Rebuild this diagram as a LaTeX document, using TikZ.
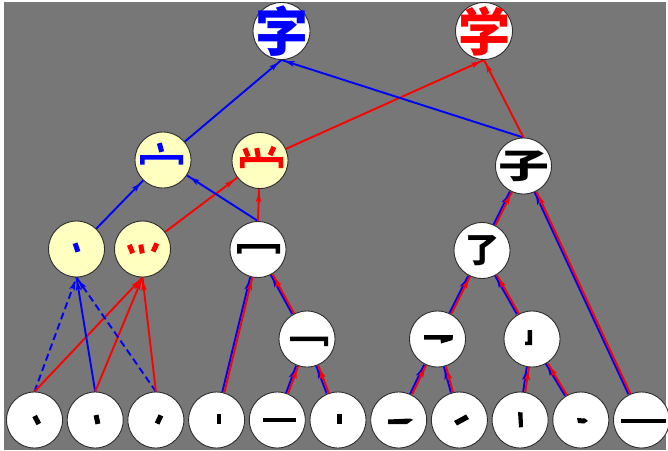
\documentclass[tikz,border=0pt]{standalone}
\usepackage{fontspec}
\usepackage{graphicx}
\newfontfamily\cjk{Noto Sans CJK SC}
\usetikzlibrary{arrows.meta,decorations.markings}
\pgfdeclarelayer{back}
\pgfdeclarelayer{links}
\pgfsetlayers{back,links,main}
\definecolor{panel}{RGB}{119,119,119}
\definecolor{pale}{RGB}{255,255,192}
\definecolor{rim}{RGB}{45,45,45}
\tikzset{
  disc/.style={circle, draw=rim, line width=0.9pt, fill=white, minimum size=56pt, inner sep=0pt},
  ydisc/.style={disc, fill=pale},
  glyph/.style={inner sep=0pt, font=\cjk\bfseries},
  link/.style={line width=1.9pt, postaction={decorate},
    decoration={markings, mark=at position -4pt with {\arrow{Stealth[length=9pt,width=5.5pt,inset=2pt]}}}},
  bl/.style={link, blue},
  rd/.style={link, red},
  blp/.style={bl, transform canvas={xshift=-1.1pt}},
  rdp/.style={rd, transform canvas={xshift=1.1pt}},
  hint/.style={dash pattern=on 7pt off 4pt},
  nib/.pic={\fill (-2.5,-4.5) rectangle (2.5,4.5);}
}
\begin{document}
\begin{tikzpicture}[x=1pt, y=-1pt]
\useasboundingbox (0,0) rectangle (668,450);
\begin{pgfonlayer}{back}
  \fill[panel] (4,2) rectangle (666,450);
\end{pgfonlayer}

% bottom row of single strokes
\foreach \i in {1,...,11} {
  \node[disc] (b\i) at ({34.5+60.7*(\i-1)},420) {};
}
% intermediate components
\node[ydisc] (d) at (76.5,249) {};
\node[ydisc] (t) at (142.5,249) {};
\node[disc]  (m) at (258,249.5) {};
\node[disc]  (p) at (307,339) {};
\node[disc]  (q) at (437.5,339) {};
\node[disc]  (j) at (532,339) {};
\node[disc]  (l) at (482,250.5) {};
\node[disc]  (z) at (523.5,166) {};
\node[ydisc] (w) at (163,160) {};
\node[ydisc] (v) at (260,160.5) {};
% whole characters
\node[disc, minimum size=57pt] (A) at (281.5,31) {};
\node[disc, minimum size=57pt] (B) at (484,31) {};
\node[glyph, text=blue, font=\cjk\bfseries\fontsize{53pt}{53pt}\selectfont] (At) at (A) {字};
\node[glyph, text=red, font=\cjk\bfseries\fontsize{52pt}{52pt}\selectfont] (Bt) at (B) {学};
\node[glyph] (zt) at (z) {\scalebox{1.02}[0.68]{\fontsize{50pt}{50pt}\selectfont 子}};
\node[glyph, font=\cjk\bfseries\fontsize{34pt}{34pt}\selectfont] (lt) at (l) {了};

% connectors
\begin{pgfonlayer}{links}
  \draw[bl, hint] (b1.north) -- (d.south);
  \draw[rd] (b1.north) -- (t.south);
  \draw[bl] (b2.north) -- (d.south);
  \draw[rd] (b2.north) -- (t.south);
  \draw[bl, hint] (b3.north) -- (d.south);
  \draw[rd] (b3.north) -- (t.south);
  \foreach \s/\e in {b4/m, b5/p, b6/p, p/m, b7/q, b8/q, b9/j, b10/j, q/l, j/l, l/z, b11/z} {
    \draw[blp] (\s) -- (\e);
    \draw[rdp] (\s) -- (\e);
  }
  \draw[bl] (d) -- (w);
  \draw[rd] (t) -- (v);
  \draw[bl] (m.north) -- (w);
  \draw[rd] (m.north) -- (v);
  \draw[bl] (w) -- (A.south);
  \draw[rd] (v) -- (B.south);
  \draw[bl] (z.north) -- (A.south);
  \draw[rd] (z.north) -- (B.south);
\end{pgfonlayer}

% stroke pieces drawn inside the discs
\pic[black, rotate=28] at (36.7,420) {nib};
\pic[black, rotate=12] at (97,419.5) {nib};
\pic[black, rotate=-25] at (159,419.5) {nib};
\fill[black] (216.5,414) rectangle (220.5,424);
\fill[black] (263,417.5) rectangle (296,422);
\fill[black] (337,413.5) rectangle (341.5,424);
\fill[black] (388,419.5) -- (410,418.5) -- (413,419.8) -- (407,424) -- (388,424) -- cycle;
\fill[black] (454,421) -- (466,414.5) -- (469,419) -- (457,425.5) -- cycle;
\fill[black] (518,412) -- (522.5,412.5) -- (523,427) -- (519,427.5) -- cycle;
\fill[black] (577,418) -- (585,418.5) -- (588,421) -- (584,423.5) -- (578,423) -- cycle;
\fill[black] (621,418.5) rectangle (666,422.5);

\fill[black] (290,336.5) -- (328,336.5) -- (328,346) -- (324,346) -- (324,341) -- (290,341) -- cycle;
\fill[black] (237,244) -- (280,244) -- (280,253.5) -- (275.5,253.5) -- (275.5,248.5)
  -- (241.5,248.5) -- (241.5,253.5) -- (237,253.5) -- cycle;
\fill[black] (424,335) -- (453,335) -- (452.5,340) -- (441,343.5) -- (440.5,339.5) -- (424,339.5) -- cycle;
\fill[black] (527.5,330) -- (532,330) -- (532,345) -- (525,345) -- (525,341.5) -- (527.5,341.5) -- cycle;

\pic[blue, rotate=18] at (76.5,247.5) {nib};

\pic[red, rotate=22] at (131,249) {nib};
\pic[red, rotate=10] at (141.5,249) {nib};
\pic[red, rotate=-25] at (155,247.5) {nib};

\pic[blue, rotate=15] at (160.5,147.5) {nib};
\fill[blue] (140,155) -- (183,155) -- (183,164.5) -- (178.5,164.5) -- (178.5,159.5)
  -- (144.5,159.5) -- (144.5,164.5) -- (140,164.5) -- cycle;

\pic[red, rotate=22] at (246.5,152.5) {nib};
\pic[red, rotate=10] at (257.5,152.5) {nib};
\pic[red, rotate=-25] at (272,151) {nib};
\fill[red] (240,157) -- (283,157) -- (283,168) -- (278.5,168) -- (278.5,162)
  -- (244.5,162) -- (244.5,168) -- (240,168) -- cycle;
\end{tikzpicture}
\end{document}
